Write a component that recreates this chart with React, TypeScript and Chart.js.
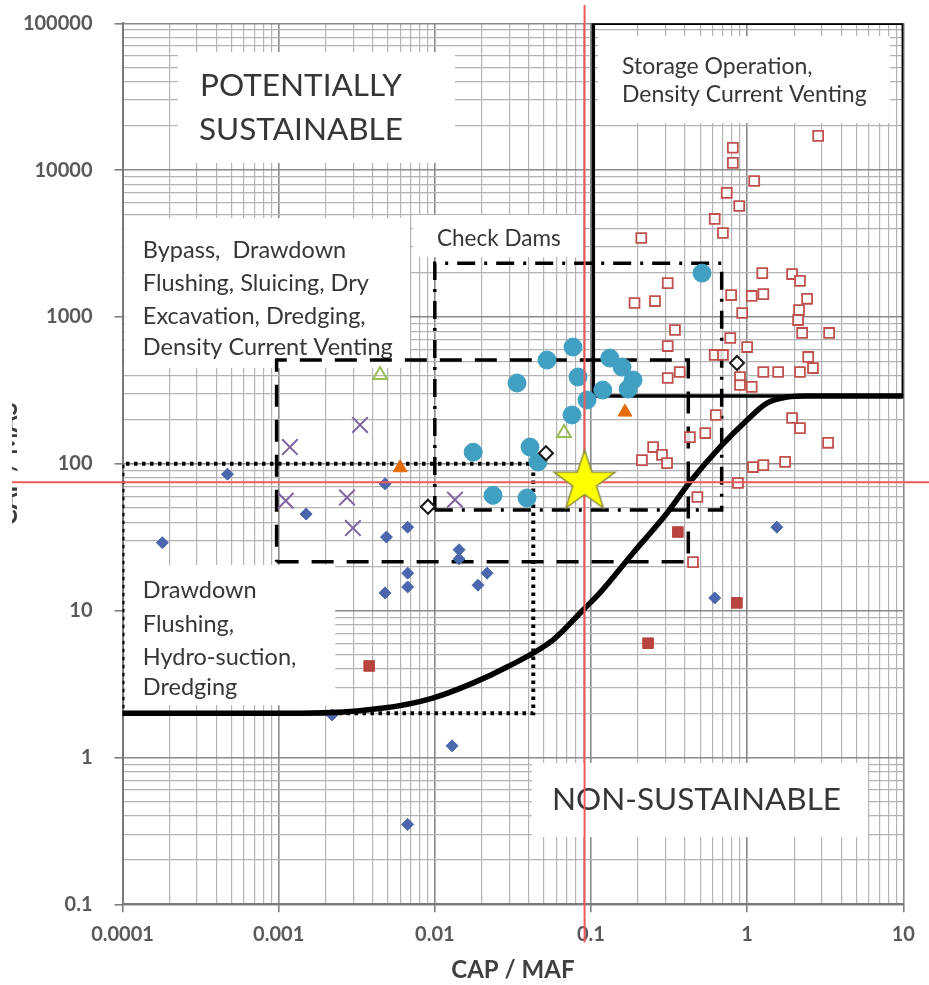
import React, { useEffect, useRef } from 'react';
import { Chart, registerables } from 'chart.js';

Chart.register(...registerables);

// ---------- axis labels ----------
const xTickLabels = ['0.0001', '0.001', '0.01', '0.1', '1', '10'];
const yTickLabels = ['0.1', '1', '10', '100', '1000', '10000', '100000'];
const xAxisTitle = 'CAP / MAF';
const yAxisTitle = 'CAP / MAS';

// ---------- series ----------
const blueDiamondX = [0.00018, 0.00047, 0.0015, 0.0048, 0.0067, 0.0049, 0.0143, 0.0143, 0.0067, 0.0067, 0.0048, 0.0216, 0.0189, 0.0129, 0.0067, 0.0022, 1.55, 0.62];
const blueDiamondY = [29, 85, 45.5, 73, 37, 31.7, 26, 22.5, 18, 14.5, 13.2, 18, 14.9, 1.2, 0.35, 1.95, 37, 12.2];

const purpleCrossX = [0.00118, 0.00111, 0.00332, 0.00274, 0.00299, 0.01346];
const purpleCrossY = [130, 56, 184, 59, 36.5, 57];

const orangeTriangleX = [0.006, 0.165];
const orangeTriangleY = [94, 225];

const greenTriangleX = [0.0672, 0.00446];
const greenTriangleY = [162, 402];

const tealCircleX = [0.0767, 0.0523, 0.0336, 0.0826, 0.132, 0.158, 0.186, 0.173, 0.119, 0.0943, 0.0756, 0.0407, 0.0458, 0.0176, 0.0236, 0.0389, 0.514];
const tealCircleY = [624, 509, 355, 390, 525, 456, 372, 323, 318, 272, 215, 130, 103, 120, 61, 58.5, 1990];

const blackDiamondX = [0.0515, 0.00904, 0.861];
const blackDiamondY = [118, 51, 486];

const redSquareX = [0.36, 0.86, 0.232, 0.0038];
const redSquareY = [34.3, 11.3, 6.0, 4.2];

const hollowSquareX = [2.85, 0.81, 0.81, 1.11, 0.74, 0.89, 0.62, 0.7, 0.21, 1.25, 1.94, 2.18, 0.31, 0.19, 0.257, 0.79, 1.07, 1.27, 2.42, 0.93, 2.15, 2.12, 0.345, 2.25, 3.35, 0.78, 0.31, 1.0, 0.62, 0.7, 1.27, 1.58, 2.18, 2.46, 2.64, 0.31, 0.37, 0.9, 0.9, 1.07, 0.63, 1.94, 2.18, 3.3, 0.43, 0.54, 0.25, 0.285, 0.307, 0.212, 1.09, 1.27, 1.75, 0.874, 0.48, 0.45];
const hollowSquareY = [17100, 14200, 11200, 8430, 7000, 5700, 4650, 3730, 3450, 1990, 1960, 1760, 1700, 1245, 1284, 1410, 1390, 1430, 1330, 1064, 1115, 953, 815, 778, 778, 719, 634, 624, 551, 551, 422, 422, 422, 534, 449, 384, 422, 390, 344, 334, 215, 205, 175, 139, 152, 162, 130, 115, 101, 106, 95, 98, 103, 74, 59.4, 21.4];

const starX = [0.091];
const starY = [75];

// sustainability boundary curve
const boundaryX = [0.0001, 0.0014, 0.0047, 0.0097, 0.0175, 0.029, 0.057, 0.089, 0.114, 0.186, 0.307, 0.43, 0.67, 1.0, 1.34, 1.8, 2.4, 10];
const boundaryY = [2, 2, 2.17, 2.54, 3.21, 4.13, 6.3, 10.1, 13.2, 24.7, 46.2, 75.2, 130, 199, 259, 285, 290, 290];

// region rectangles [min, max]
const storageBoxX = [0.1035, 10];
const storageBoxY = [290, 100000];
const checkDamsX = [0.01, 0.687];
const checkDamsY = [48.5, 2320];
const bypassX = [0.00097, 0.42];
const bypassY = [21.5, 509];
const drawdownX = [0.0001, 0.0427];
const drawdownY = [2, 100];

// red reference lines
const refHX = [0.0000196, 15];
const refHY = [75, 75];
const refVX = [0.091, 0.091];
const refVY = [133000, 0.055];

// text annotations (data coordinates)
const textBoxes = [
  { lines: ['POTENTIALLY', 'SUSTAINABLE'], size: 31.5, align: 'center', x: 0.00139, ys: [37400, 18750], box: [0.000226, 0.01346, 11200, 63800] },
  { lines: ['Storage Operation,', 'Density Current Venting'], size: 23, align: 'left', x: 0.158, ys: [50350, 32500], box: [0.111, 8.2, 20940, 81950] },
  { lines: ['Check Dams'], size: 22.5, align: 'left', x: 0.01033, ys: [3400], box: [0.00724, 0.0889, 2560, 4945] },
  { lines: ['Bypass,  Drawdown', 'Flushing, Sluicing, Dry', 'Excavation, Dredging,', 'Density Current Venting'], size: 23.5, align: 'left', x: 0.000135, ys: [2860, 1700, 1015, 624], box: [0.000103, 0.00693, 449, 4720] },
  { lines: ['Drawdown', 'Flushing,', 'Hydro-suction,', 'Dredging'], size: 23.5, align: 'left', x: 0.000135, ys: [13.8, 8.11, 4.83, 3.01], box: [0.000103, 0.0023, 2.27, 20.5] },
  { lines: ['NON-SUSTAINABLE'], size: 31.5, align: 'center', x: 0.474, ys: [0.513], box: [0.0419, 5.94, 0.287, 0.917] },
];

// ---------- helpers ----------
const zip = (xs: number[], ys: number[]) => xs.map((x, i) => ({ x, y: ys[i] }));
const rectPath = (xs: number[], ys: number[]) => [
  { x: xs[0], y: ys[0] },
  { x: xs[1], y: ys[0] },
  { x: xs[1], y: ys[1] },
  { x: xs[0], y: ys[1] },
  { x: xs[0], y: ys[0] },
];
const logGrid = (fromExp: number, toExp: number) => {
  const v: number[] = [];
  for (let e = fromExp; e < toExp; e++) {
    for (let m = 1; m <= 9; m++) v.push(parseFloat((m * Math.pow(10, e)).toPrecision(6)));
  }
  v.push(Math.pow(10, toExp));
  return v;
};
const isMajor = (v: number) => Math.abs(Math.log10(v) - Math.round(Math.log10(v))) < 1e-6;
const labelFor = (labels: string[]) => (value: any) => {
  const v = Number(value);
  const l = labels.find((s) => Math.abs(Math.log10(parseFloat(s)) - Math.log10(v)) < 1e-6);
  return l ?? '';
};

const FONT = 'Lato, "Open Sans", sans-serif';

function makeStar(): HTMLCanvasElement {
  const c = document.createElement('canvas');
  const size = 70;
  c.width = size;
  c.height = size;
  const g = c.getContext('2d')!;
  const R = 32;
  const r = 12.5;
  const cx = size / 2;
  const cy = size / 2;
  g.beginPath();
  for (let i = 0; i < 10; i++) {
    const ang = -Math.PI / 2 + (i * Math.PI) / 5;
    const rad = i % 2 === 0 ? R : r;
    g.lineTo(cx + rad * Math.cos(ang), cy + rad * Math.sin(ang));
  }
  g.closePath();
  g.fillStyle = '#ffff00';
  g.fill();
  g.lineWidth = 1.5;
  g.strokeStyle = '#8c8c40';
  g.stroke();
  return c;
}

const textBoxPlugin = {
  id: 'textBoxes',
  beforeDatasetsDraw(chart: any) {
    const { ctx } = chart;
    const xs = chart.scales.x;
    const ys = chart.scales.y;
    ctx.save();
    textBoxes.forEach((b) => {
      const x0 = xs.getPixelForValue(b.box[0]);
      const x1 = xs.getPixelForValue(b.box[1]);
      const y0 = ys.getPixelForValue(b.box[3]);
      const y1 = ys.getPixelForValue(b.box[2]);
      ctx.fillStyle = '#ffffff';
      ctx.fillRect(x0, y0, x1 - x0, y1 - y0);
      ctx.fillStyle = '#363636';
      ctx.font = `${b.size}px ${FONT}`;
      ctx.textAlign = b.align;
      ctx.textBaseline = 'middle';
      const tx = xs.getPixelForValue(b.x);
      b.lines.forEach((line, i) => {
        ctx.fillText(line, tx, ys.getPixelForValue(b.ys[i]));
      });
    });
    ctx.restore();
  },
};

const yTitlePlugin = {
  id: 'yTitleCropped',
  afterDraw(chart: any) {
    const { ctx, chartArea } = chart;
    ctx.save();
    ctx.beginPath();
    ctx.rect(12, 0, 40, chart.height);
    ctx.clip();
    ctx.translate(17, (chartArea.top + chartArea.bottom) / 2);
    ctx.rotate(-Math.PI / 2);
    ctx.font = `bold 24px ${FONT}`;
    ctx.fillStyle = '#3a3a3a';
    ctx.textAlign = 'center';
    ctx.textBaseline = 'alphabetic';
    ctx.fillText(yAxisTitle, 0, 0);
    ctx.restore();
  },
};

const axisCommon = (grid: number[], labels: string[]) => ({
  type: 'logarithmic' as const,
  afterBuildTicks: (s: any) => {
    s.ticks = grid.map((v) => ({ value: v, major: isMajor(v) }));
  },
  ticks: {
    autoSkip: false,
    maxRotation: 0,
    minRotation: 0,
    color: '#595959',
    font: { family: FONT, size: 20, weight: 'bold' as const },
    callback: labelFor(labels),
  },
  grid: {
    color: (c: any) => (c.tick && isMajor(c.tick.value) ? '#8a8a8a' : '#b3b3b3'),
    lineWidth: (c: any) => (c.tick && isMajor(c.tick.value) ? 1.6 : 1.2),
    tickLength: 8,
    tickColor: (c: any) => (c.tick && isMajor(c.tick.value) ? '#808080' : 'rgba(0,0,0,0)'),
    drawTicks: true,
  },
  border: { display: true, color: '#7a7a7a', width: 2 },
});

export default function App() {
  const ref = useRef<HTMLCanvasElement>(null);

  useEffect(() => {
    if (!ref.current) return;
    const star = makeStar();
    const lineDs = (label: string, data: any[], opts: any) => ({
      label,
      data,
      showLine: true,
      fill: false,
      pointRadius: 0,
      pointHoverRadius: 0,
      borderColor: '#000000',
      borderCapStyle: 'butt',
      borderJoinStyle: 'miter',
      tension: 0,
      ...opts,
    });
    const markerDs = (label: string, data: any[], opts: any) => ({
      label,
      data,
      showLine: false,
      pointHoverRadius: opts.pointRadius,
      ...opts,
    });

    const chart = new Chart(ref.current, {
      type: 'scatter',
      data: {
        datasets: [
          markerDs('Project', zip(starX, starY), { order: 0, pointStyle: star, pointRadius: 32 }),
          lineDs('Ref H', zip(refHX, refHY), { order: 1, borderColor: '#ef5b5b', borderWidth: 2, clip: false }),
          lineDs('Ref V', zip(refVX, refVY), { order: 1, borderColor: '#ef5b5b', borderWidth: 2, clip: false }),
          lineDs('Boundary', zip(boundaryX, boundaryY), { order: 2, borderWidth: 5.5, cubicInterpolationMode: 'monotone', borderCapStyle: 'round' }),
          markerDs('Blue', zip(blueDiamondX, blueDiamondY), { order: 3, pointStyle: 'rectRot', pointRadius: 6, pointBackgroundColor: '#4a66ac', pointBorderColor: '#4a66ac', pointBorderWidth: 1 }),
          markerDs('Purple', zip(purpleCrossX, purpleCrossY), { order: 3, pointStyle: 'crossRot', pointRadius: 11, pointBorderColor: '#7f63a1', pointBorderWidth: 2 }),
          markerDs('Orange', zip(orangeTriangleX, orangeTriangleY), { order: 3, pointStyle: 'triangle', pointRadius: 8, pointBackgroundColor: '#e46c0a', pointBorderColor: '#e46c0a', pointBorderWidth: 1 }),
          markerDs('Green', zip(greenTriangleX, greenTriangleY), { order: 3, pointStyle: 'triangle', pointRadius: 8, pointBackgroundColor: 'rgba(255,255,255,0)', pointBorderColor: '#9bbb59', pointBorderWidth: 2 }),
          markerDs('Teal', zip(tealCircleX, tealCircleY), { order: 4, pointStyle: 'circle', pointRadius: 9, pointBackgroundColor: '#41a0c2', pointBorderColor: '#41a0c2', pointBorderWidth: 1 }),
          markerDs('Black', zip(blackDiamondX, blackDiamondY), { order: 3, pointStyle: 'rectRot', pointRadius: 7, pointBackgroundColor: '#ffffff', pointBorderColor: '#1a1a1a', pointBorderWidth: 2 }),
          markerDs('Red', zip(redSquareX, redSquareY), { order: 3, pointStyle: 'rect', pointRadius: 7.5, pointBackgroundColor: '#b8433f', pointBorderColor: '#b8433f', pointBorderWidth: 1 }),
          markerDs('Hollow', zip(hollowSquareX, hollowSquareY), { order: 5, pointStyle: 'rect', pointRadius: 7, pointBackgroundColor: 'rgba(255,255,255,0.85)', pointBorderColor: '#c0504d', pointBorderWidth: 1.8 }),
          lineDs('Storage', rectPath(storageBoxX, storageBoxY), { order: 6, borderWidth: 3.5 }),
          lineDs('CheckDams', rectPath(checkDamsX, checkDamsY), { order: 6, borderWidth: 3.5, borderDash: [18, 9, 3, 9] }),
          lineDs('Bypass', rectPath(bypassX, bypassY), { order: 6, borderWidth: 3.5, borderDash: [22, 13] }),
          lineDs('Drawdown', rectPath(drawdownX, drawdownY), { order: 6, borderWidth: 4, borderDash: [3.5, 4.5] }),
        ],
      },
      options: {
        animation: false,
        responsive: true,
        maintainAspectRatio: false,
        events: [],
        layout: { autoPadding: false, padding: { top: 23.3, right: 25.7, bottom: 0, left: 0 } },
        plugins: {
          legend: { display: false },
          tooltip: { enabled: false },
        },
        scales: {
          x: {
            ...axisCommon(logGrid(-4, 1), xTickLabels),
            min: 0.0001,
            max: 10,
            position: 'bottom',
            afterFit: (s: any) => {
              s.height = 80.7;
              s.paddingLeft = 0;
              s.paddingRight = 0;
            },
            ticks: { ...axisCommon(logGrid(-4, 1), xTickLabels).ticks, padding: 10 },
            title: {
              display: true,
              text: xAxisTitle,
              color: '#404040',
              font: { family: FONT, size: 24, weight: 'bold' },
              padding: { top: 0, bottom: 0 },
            },
          },
          y: {
            ...axisCommon(logGrid(-1, 5), yTickLabels),
            min: 0.1,
            max: 100000,
            position: 'left',
            afterFit: (s: any) => {
              s.width = 122.5;
              s.paddingTop = 0;
              s.paddingBottom = 0;
            },
            ticks: { ...axisCommon(logGrid(-1, 5), yTickLabels).ticks, padding: 22 },
          },
        },
      } as any,
      plugins: [textBoxPlugin, yTitlePlugin] as any,
    } as any);

    return () => chart.destroy();
  }, []);

  return (
    <div style={{ position: 'absolute', left: 0, top: 0, width: 929, height: 985, background: '#ffffff' }}>
      <canvas ref={ref} />
    </div>
  );
}
